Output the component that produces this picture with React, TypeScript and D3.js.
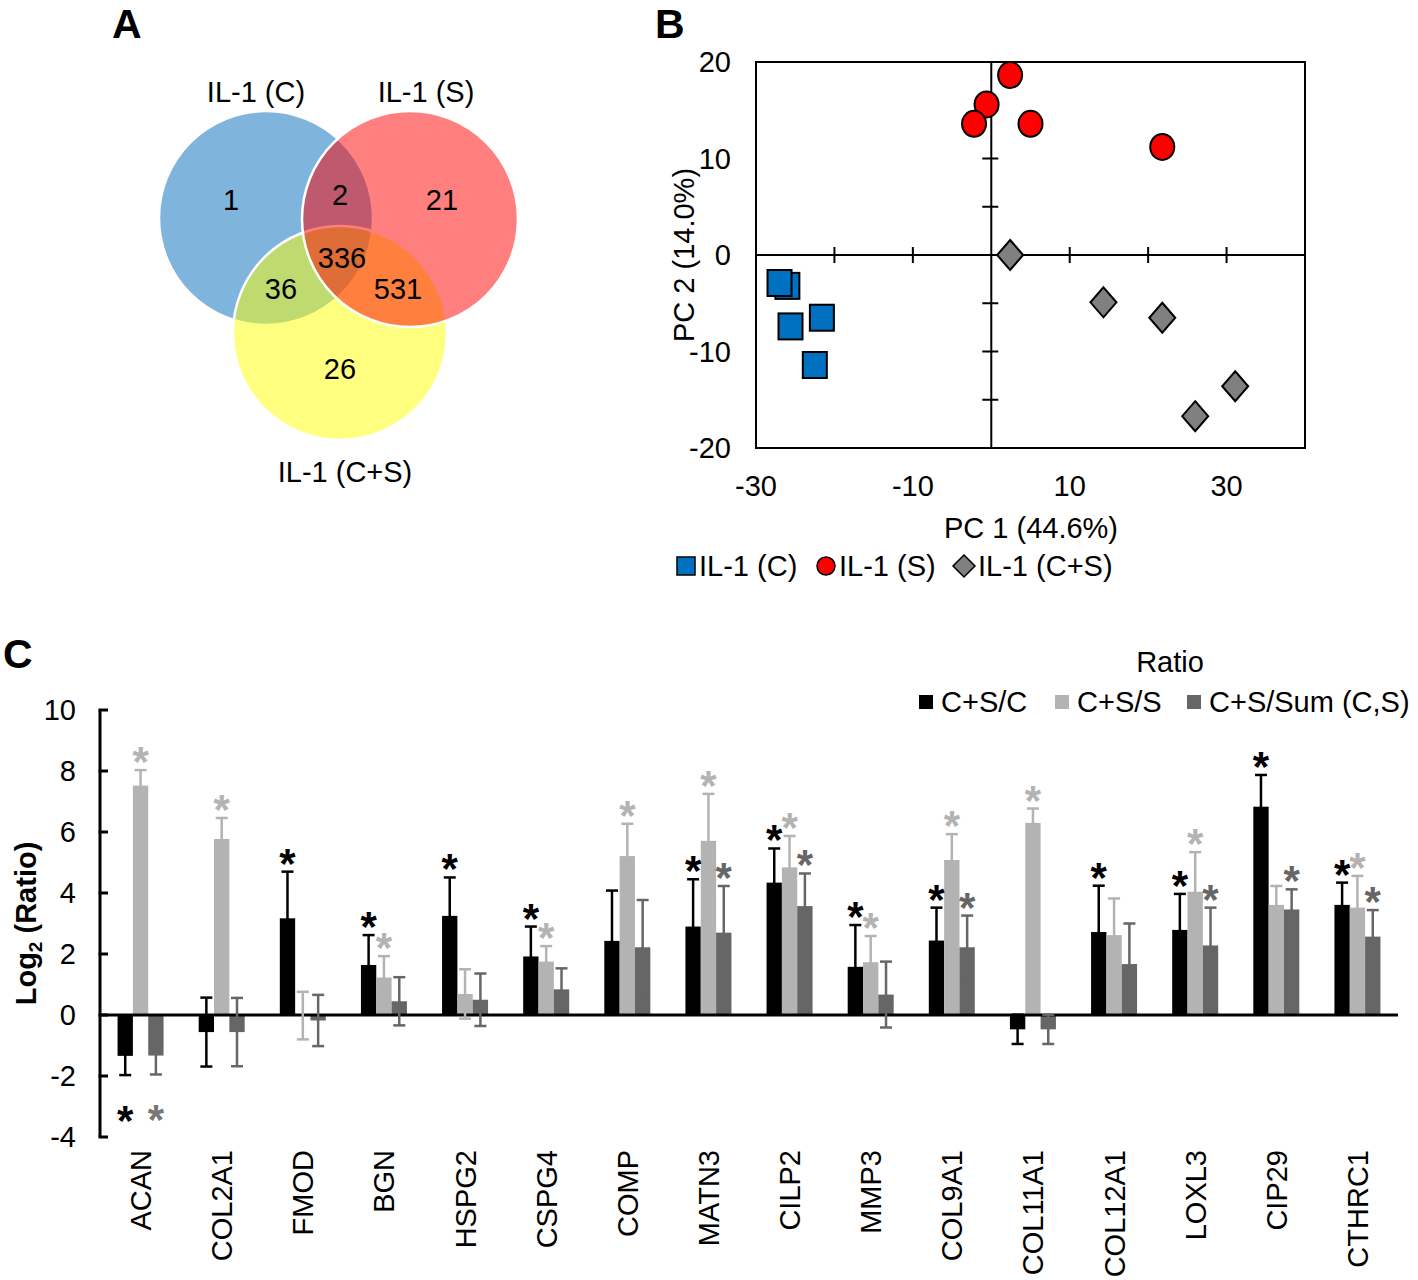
import React, { useEffect, useRef } from "react";
import * as d3 from "d3";

const FONT = "'Liberation Sans', Arial, Helvetica, sans-serif";
const FS = 29;

// ---- panel A: Venn ----
const vennSetLabels = ["IL-1 (C)", "IL-1 (S)", "IL-1 (C+S)"];
const vennRegions = ["C", "C&S", "S", "C&CS", "C&S&CS", "S&CS", "CS"];
const vennCounts = [1, 2, 21, 36, 336, 531, 26];

// ---- panel B: PCA ----
const pcaGroups = ["IL-1 (C)", "IL-1 (S)", "IL-1 (C+S)"];
const pc1C = [-26.0, -27.0, -25.6, -21.6, -22.5];
const pc2C = [-3.2, -2.9, -7.4, -6.5, -11.4];
const pc1S = [2.4, -0.6, -2.2, 5.0, 21.8];
const pc2S = [18.65, 15.6, 13.6, 13.6, 11.2];
const pc1CS = [2.4, 14.3, 21.8, 26.0, 31.1];
const pc2CS = [0.0, -4.9, -6.5, -16.7, -13.6];
const pcaXLabels = [-30, -10, 10, 30];
const pcaYLabels = [-20, -10, 0, 10, 20];

// ---- panel C: bars ----
const genes = ["ACAN", "COL2A1", "FMOD", "BGN", "HSPG2", "CSPG4", "COMP", "MATN3", "CILP2", "MMP3", "COL9A1", "COL11A1", "COL12A1", "LOXL3", "CIP29", "CTHRC1"];
const seriesNames = ["C+S/C", "C+S/S", "C+S/Sum (C,S)"];
const ratioC = [-1.34, -0.56, 3.17, 1.64, 3.25, 1.92, 2.43, 2.9, 4.34, 1.58, 2.44, -0.47, 2.72, 2.79, 6.83, 3.61];
const errC = [0.63, 1.13, 1.53, 0.98, 1.26, 0.98, 1.65, 1.55, 1.12, 1.37, 1.08, 0.48, 1.52, 1.18, 1.04, 0.73];
const ratioS = [7.52, 5.77, -0.02, 1.23, 0.69, 1.75, 5.21, 5.71, 4.84, 1.73, 5.08, 6.3, 2.62, 4.04, 3.61, 3.52];
const errS = [0.51, 0.69, 0.78, 0.7, 0.81, 0.51, 1.06, 1.54, 1.03, 0.86, 0.85, 0.47, 1.2, 1.3, 0.62, 1.04];
const ratioSum = [-1.33, -0.56, -0.18, 0.45, 0.5, 0.84, 2.22, 2.7, 3.57, 0.67, 2.22, -0.47, 1.67, 2.28, 3.46, 2.57];
const errSum = [0.62, 1.12, 0.84, 0.79, 0.86, 0.69, 1.55, 1.53, 1.07, 1.08, 1.04, 0.48, 1.33, 1.24, 0.66, 0.87];
const sigC = [1, 0, 1, 1, 1, 1, 0, 1, 1, 1, 1, 0, 1, 1, 1, 1];
const sigS = [1, 1, 0, 1, 0, 1, 1, 1, 1, 1, 1, 1, 0, 1, 0, 1];
const sigSum = [1, 0, 0, 0, 0, 0, 0, 1, 1, 0, 1, 0, 0, 1, 1, 1];
const yTicksC = [-4, -2, 0, 2, 4, 6, 8, 10];

const barColors = ["#000000", "#b3b3b3", "#666666"];

export default function App() {
  const ref = useRef<SVGSVGElement>(null);

  useEffect(() => {
    const svg = d3.select(ref.current);
    svg.selectAll("*").remove();
    svg.attr("font-family", FONT);
    drawVenn(svg);
    drawPca(svg);
    drawBars(svg);
  }, []);

  return (
    <svg
      ref={ref}
      width={1418}
      height={1280}
      style={{ position: "absolute", left: 0, top: 0, background: "#fff" }}
    />
  );
}

const panelLetter = (svg: any, t: string, x: number, y: number) => {
  svg.append("text").attr("x", x).attr("y", y).attr("font-size", 41).attr("font-weight", "bold").text(t);
};

const drawVenn = (svg: any) => {
  panelLetter(svg, "A", 112, 38);
  const g = svg.append("g");
  // draw order: C, C+S, S  (semi-transparent fills give the overlap colours)
  const circles = [
    { cx: 266, cy: 218, r: 107, fill: "rgb(0,105,185)" },
    { cx: 340, cy: 333, r: 107, fill: "rgb(255,255,0)" },
    { cx: 410, cy: 219, r: 108, fill: "rgb(255,0,0)" },
  ];
  g.selectAll("circle")
    .data(circles)
    .join("circle")
    .attr("cx", (d) => d.cx)
    .attr("cy", (d) => d.cy)
    .attr("r", (d) => d.r)
    .attr("fill", (d) => d.fill)
    .attr("fill-opacity", 0.5)
    .attr("stroke", "#fff")
    .attr("stroke-width", 2.5);

  const regionPos: Record<string, [number, number]> = {
    C: [231, 200],
    "C&S": [340, 195],
    S: [442, 200],
    "C&CS": [281, 289],
    "C&S&CS": [342, 258],
    "S&CS": [398, 289],
    CS: [340, 369],
  };
  vennRegions.forEach((r, i) => {
    g.append("text")
      .attr("x", regionPos[r][0])
      .attr("y", regionPos[r][1])
      .attr("dy", "0.36em")
      .attr("text-anchor", "middle")
      .attr("font-size", FS)
      .text(vennCounts[i]);
  });
  const labelPos = [[256, 92], [426, 92], [345, 472]];
  vennSetLabels.forEach((l, i) => {
    g.append("text")
      .attr("x", labelPos[i][0])
      .attr("y", labelPos[i][1])
      .attr("dy", "0.36em")
      .attr("text-anchor", "middle")
      .attr("font-size", FS)
      .text(l);
  });
};

const drawPca = (svg: any) => {
  panelLetter(svg, "B", 655, 38);
  const x = d3.scaleLinear().domain([-30, 40]).range([756, 1305]);
  const y = d3.scaleLinear().domain([-20, 20]).range([448, 62]);
  const g = svg.append("g");

  g.append("rect")
    .attr("x", x(-30)).attr("y", y(20))
    .attr("width", x(40) - x(-30)).attr("height", y(-20) - y(20))
    .attr("fill", "none").attr("stroke", "#000").attr("stroke-width", 2);
  g.append("line").attr("x1", x(-30)).attr("x2", x(40)).attr("y1", y(0)).attr("y2", y(0))
    .attr("stroke", "#000").attr("stroke-width", 2);
  g.append("line").attr("x1", x(0)).attr("x2", x(0)).attr("y1", y(20)).attr("y2", y(-20))
    .attr("stroke", "#000").attr("stroke-width", 2);
  [-20, -10, 10, 20, 30].forEach((t) => {
    g.append("line").attr("x1", x(t)).attr("x2", x(t)).attr("y1", y(0) - 8).attr("y2", y(0) + 8)
      .attr("stroke", "#000").attr("stroke-width", 2);
  });
  [-15, -10, -5, 5, 10, 15].forEach((t) => {
    g.append("line").attr("x1", x(0) - 9).attr("x2", x(0) + 7).attr("y1", y(t)).attr("y2", y(t))
      .attr("stroke", "#000").attr("stroke-width", 2);
  });
  pcaYLabels.forEach((t) => {
    g.append("text").attr("x", 731).attr("y", y(t)).attr("dy", "0.36em")
      .attr("text-anchor", "end").attr("font-size", FS).text(t);
  });
  pcaXLabels.forEach((t) => {
    g.append("text").attr("x", x(t)).attr("y", 486).attr("dy", "0.36em")
      .attr("text-anchor", "middle").attr("font-size", FS).text(t);
  });
  g.append("text").attr("x", 1031).attr("y", 528).attr("dy", "0.36em")
    .attr("text-anchor", "middle").attr("font-size", FS).text("PC 1 (44.6%)");
  g.append("text").attr("transform", `translate(684,${y(0)}) rotate(-90)`).attr("dy", "0.36em")
    .attr("text-anchor", "middle").attr("font-size", FS).text("PC 2 (14.0%)");

  const sq = 24, sqh = 26;
  g.selectAll("rect.pc").data(d3.range(pc1C.length)).join("rect")
    .attr("class", "pc")
    .attr("x", (i) => x(pc1C[i]) - sq / 2).attr("y", (i) => y(pc2C[i]) - sqh / 2)
    .attr("width", sq).attr("height", sqh)
    .attr("fill", "#0070c0").attr("stroke", "#000").attr("stroke-width", 2);
  g.selectAll("ellipse.ps").data(d3.range(pc1S.length)).join("ellipse")
    .attr("class", "ps")
    .attr("cx", (i) => x(pc1S[i])).attr("cy", (i) => y(pc2S[i]))
    .attr("rx", 12).attr("ry", 13)
    .attr("fill", "#ff0000").attr("stroke", "#000").attr("stroke-width", 2);
  const diamond = (cx: number, cy: number, w: number, h: number) =>
    `M${cx},${cy - h}L${cx + w},${cy}L${cx},${cy + h}L${cx - w},${cy}Z`;
  g.selectAll("path.pcs").data(d3.range(pc1CS.length)).join("path")
    .attr("class", "pcs")
    .attr("d", (i) => diamond(x(pc1CS[i]), y(pc2CS[i]), 13, 15))
    .attr("fill", "#808080").attr("stroke", "#000").attr("stroke-width", 2);

  // legend
  const ly = 566;
  const lg = svg.append("g");
  lg.append("rect").attr("x", 677).attr("y", ly - 9).attr("width", 18).attr("height", 18)
    .attr("fill", "#0070c0").attr("stroke", "#000").attr("stroke-width", 1.5);
  lg.append("circle").attr("cx", 826).attr("cy", ly).attr("r", 9)
    .attr("fill", "#ff0000").attr("stroke", "#000").attr("stroke-width", 1.5);
  lg.append("path").attr("d", diamond(964, ly, 11, 11))
    .attr("fill", "#808080").attr("stroke", "#000").attr("stroke-width", 1.5);
  const lx = [699, 839, 978];
  pcaGroups.forEach((n, i) => {
    lg.append("text").attr("x", lx[i]).attr("y", ly).attr("dy", "0.36em")
      .attr("font-size", FS).text(n);
  });
};

const drawBars = (svg: any) => {
  panelLetter(svg, "C", 3, 668);
  const x0 = d3.scaleBand().domain(genes).range([100, 1398]);
  const x1 = d3.scaleBand().domain(["0", "1", "2"]).range([-23, 23]);
  const y = d3.scaleLinear().domain([-4, 10]).range([1137, 710]);
  const g = svg.append("g");

  const values = [ratioC, ratioS, ratioSum];
  const errs = [errC, errS, errSum];
  const sigs = [sigC, sigS, sigSum];
  const center = (gene: string) => (x0(gene) as number) + x0.bandwidth() / 2;

  // bars
  values.forEach((vals, s) => {
    g.append("g").attr("fill", barColors[s])
      .selectAll("rect").data(genes).join("rect")
      .attr("x", (d: string) => center(d) + (x1(String(s)) as number))
      .attr("y", (d: string, i: number) => y(Math.max(0, vals[i])))
      .attr("width", x1.bandwidth())
      .attr("height", (d: string, i: number) => Math.abs(y(vals[i]) - y(0)));
  });

  // axis
  g.append("line").attr("x1", 100).attr("x2", 100).attr("y1", y(10)).attr("y2", y(-4))
    .attr("stroke", "#000").attr("stroke-width", 3);
  yTicksC.forEach((t) => {
    g.append("line").attr("x1", 98.5).attr("x2", 108).attr("y1", y(t)).attr("y2", y(t))
      .attr("stroke", "#000").attr("stroke-width", 3);
    g.append("text").attr("x", 76).attr("y", y(t)).attr("dy", "0.36em")
      .attr("text-anchor", "end").attr("font-size", FS).text(t);
  });
  g.append("line").attr("x1", 100).attr("x2", 1398).attr("y1", y(0)).attr("y2", y(0))
    .attr("stroke", "#000").attr("stroke-width", 3);

  // error bars + asterisks
  values.forEach((vals, s) => {
    genes.forEach((gene, i) => {
      const cx = center(gene) + (x1(String(s)) as number) + x1.bandwidth() / 2;
      const lo = y(vals[i] - errs[s][i]);
      const hi = y(vals[i] + errs[s][i]);
      const eg = g.append("g").attr("stroke", barColors[s]).attr("stroke-width", 2.5);
      eg.append("line").attr("x1", cx).attr("x2", cx).attr("y1", hi).attr("y2", lo);
      eg.append("line").attr("x1", cx - 6).attr("x2", cx + 6).attr("y1", hi).attr("y2", hi);
      eg.append("line").attr("x1", cx - 6).attr("x2", cx + 6).attr("y1", lo).attr("y2", lo);
      if (sigs[s][i]) {
        const cy = vals[i] < 0 ? lo + 34 : hi - 20;
        g.append("text").attr("x", cx).attr("y", cy + 26)
          .attr("text-anchor", "middle").attr("font-size", 42).attr("font-weight", "bold")
          .attr("fill", s === 2 && vals[i] < 0 ? "#777" : barColors[s])
          .text("*");
      }
    });
  });

  // category labels
  genes.forEach((gene) => {
    g.append("text")
      .attr("transform", `translate(${center(gene)},1150) rotate(-90)`)
      .attr("dy", "0.36em").attr("text-anchor", "end").attr("font-size", FS)
      .text(gene);
  });

  // y title
  const yt = g.append("text")
    .attr("transform", `translate(26,${y(3)}) rotate(-90)`)
    .attr("dy", "0.36em").attr("text-anchor", "middle")
    .attr("font-size", FS).attr("font-weight", "bold");
  yt.append("tspan").text("Log");
  yt.append("tspan").attr("font-size", 19).attr("dy", "0.3em").text("2");
  yt.append("tspan").attr("dy", "-0.2em").text(" (Ratio)");

  // legend
  const lg = svg.append("g");
  lg.append("text").attr("x", 1170).attr("y", 662).attr("dy", "0.36em")
    .attr("text-anchor", "middle").attr("font-size", FS).text("Ratio");
  const lx = [919, 1055, 1187];
  seriesNames.forEach((n, i) => {
    lg.append("rect").attr("x", lx[i]).attr("y", 695).attr("width", 14).attr("height", 14)
      .attr("fill", barColors[i]);
    lg.append("text").attr("x", lx[i] + 22).attr("y", 702).attr("dy", "0.36em")
      .attr("font-size", FS).text(n);
  });
};
